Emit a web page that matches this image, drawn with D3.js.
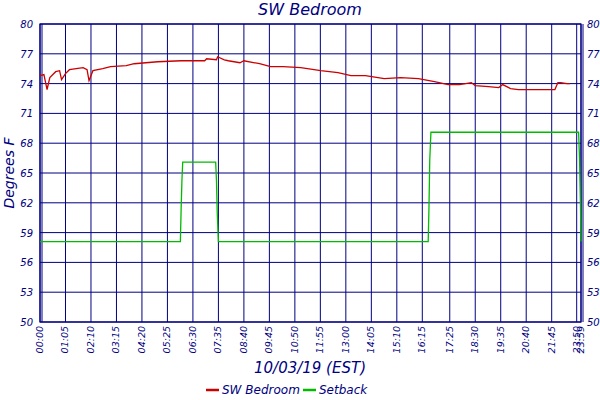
<!DOCTYPE html>
<html><head><meta charset="utf-8">
<script src="https://cdn.jsdelivr.net/npm/d3@7"></script>
<style>body{margin:0;background:#fff}text{font-family:"DejaVu Sans",sans-serif;font-style:italic;fill:#000080}</style>
</head><body><svg id="c" width="600" height="400"></svg>
<script>
const yTicks=[50,53,56,59,62,65,68,71,74,77,80];
const yTickLabels=["50","53","56","59","62","65","68","71","74","77","80"];
const xTickMinutes=[0,65,130,195,260,325,390,455,520,585,650,715,780,845,910,975,1045,1110,1175,1240,1305,1430,1439];
const xTickLabels=["00:00","01:05","02:10","03:15","04:20","05:25","06:30","07:35","08:40","09:45","10:50","11:55","13:00","14:05","15:10","16:15","17:25","18:30","19:35","20:40","21:45","23:50","23:59"];
const roomT=[0,10,18,25,40,50,55,65,75,110,120,125,135,160,180,220,240,300,360,420,425,450,453,470,480,510,520,560,588,620,665,716,760,793,830,878,920,965,1006,1041,1070,1100,1110,1144,1170,1180,1200,1220,1280,1321,1336,1350,1381,1396];
const roomV=[74.8,74.9,73.4,74.6,75.2,75.3,74.4,75.0,75.4,75.6,75.4,74.3,75.3,75.5,75.7,75.8,76.0,76.2,76.3,76.3,76.5,76.4,76.7,76.4,76.3,76.1,76.3,76.0,75.7,75.7,75.6,75.3,75.1,74.8,74.8,74.5,74.6,74.5,74.2,73.9,73.9,74.1,73.8,73.7,73.6,73.9,73.5,73.4,73.4,73.4,74.1,74.1,74.0,74.0];
const setT=[0,358,360,362,364,448,450,452,455,990,992,994,997,1434,1436,1438,1439];
const setV=[58.1,58.1,61.5,64.3,66.1,66.1,64.3,61.0,58.1,58.1,61.5,66.3,69.1,69.1,66.3,61.5,58.1];

const svg=d3.select("#c");
const L=40,R=581,T=24,B=322;
const x=d3.scaleLinear().domain([0,1305,1430,1439]).range([L,551.7,576.7,R]);
const y=d3.scaleLinear().domain([50,80]).range([B,T]);
const g=svg.append("g");
g.selectAll(".hg").data(yTicks).join("line").attr("x1",L).attr("x2",R).attr("y1",d=>y(d)).attr("y2",d=>y(d)).attr("stroke","#000080").attr("stroke-width",1);
g.selectAll(".vg").data(xTickMinutes).join("line").attr("x1",d=>x(d)).attr("x2",d=>x(d)).attr("y1",T).attr("y2",B).attr("stroke","#000080").attr("stroke-width",1);
g.append("rect").attr("x",L).attr("y",T).attr("width",R-L).attr("height",B-T).attr("fill","none").attr("stroke","#000080").attr("stroke-width",1.2);
g.append("line").attr("x1",L+2).attr("x2",L+2).attr("y1",T).attr("y2",B).attr("stroke","#000080");
g.append("line").attr("x1",R+2).attr("x2",R+2).attr("y1",T).attr("y2",B).attr("stroke","#000080");
yTicks.forEach((v,i)=>{
  svg.append("text").attr("x",33).attr("y",y(v)+4).attr("text-anchor","end").attr("font-size",10).text(yTickLabels[i]);
  svg.append("text").attr("x",587).attr("y",y(v)+4).attr("text-anchor","start").attr("font-size",10).text(yTickLabels[i]);
});
xTickMinutes.forEach((m,i)=>{
  svg.append("text").attr("transform",`translate(${x(m)+3},${B+4}) rotate(-90)`).attr("text-anchor","end").attr("font-size",9.5).text(xTickLabels[i]);
});
const line=d3.line().x(d=>x(d[0])).y(d=>y(d[1]));
svg.append("path").datum(setT.map((t,i)=>[t,setV[i]])).attr("d",line).attr("fill","none").attr("stroke","#00bb00").attr("stroke-width",1.3);
svg.append("path").datum(roomT.map((t,i)=>[t,roomV[i]])).attr("d",line).attr("fill","none").attr("stroke","#cc0000").attr("stroke-width",1.3);
svg.append("text").attr("x",310).attr("y",15).attr("text-anchor","middle").attr("font-size",16).attr("font-family","DejaVu Serif").text("SW Bedroom");
svg.append("text").attr("transform","translate(14,173) rotate(-90)").attr("text-anchor","middle").attr("font-size",14).attr("font-family","DejaVu Serif").text("Degrees F");
svg.append("text").attr("x",310).attr("y",373).attr("text-anchor","middle").attr("font-size",15).attr("font-family","DejaVu Serif").text("10/03/19 (EST)");
const leg=[["SW Bedroom","#cc0000",206],["Setback","#00bb00",303]];
leg.forEach(([n,c,lx])=>{
  svg.append("line").attr("x1",lx).attr("x2",lx+13).attr("y1",390).attr("y2",390).attr("stroke",c).attr("stroke-width",2.5);
  svg.append("text").attr("x",lx+16).attr("y",394).attr("font-size",12).attr("font-family","DejaVu Serif").text(n);
});
</script></body></html>
